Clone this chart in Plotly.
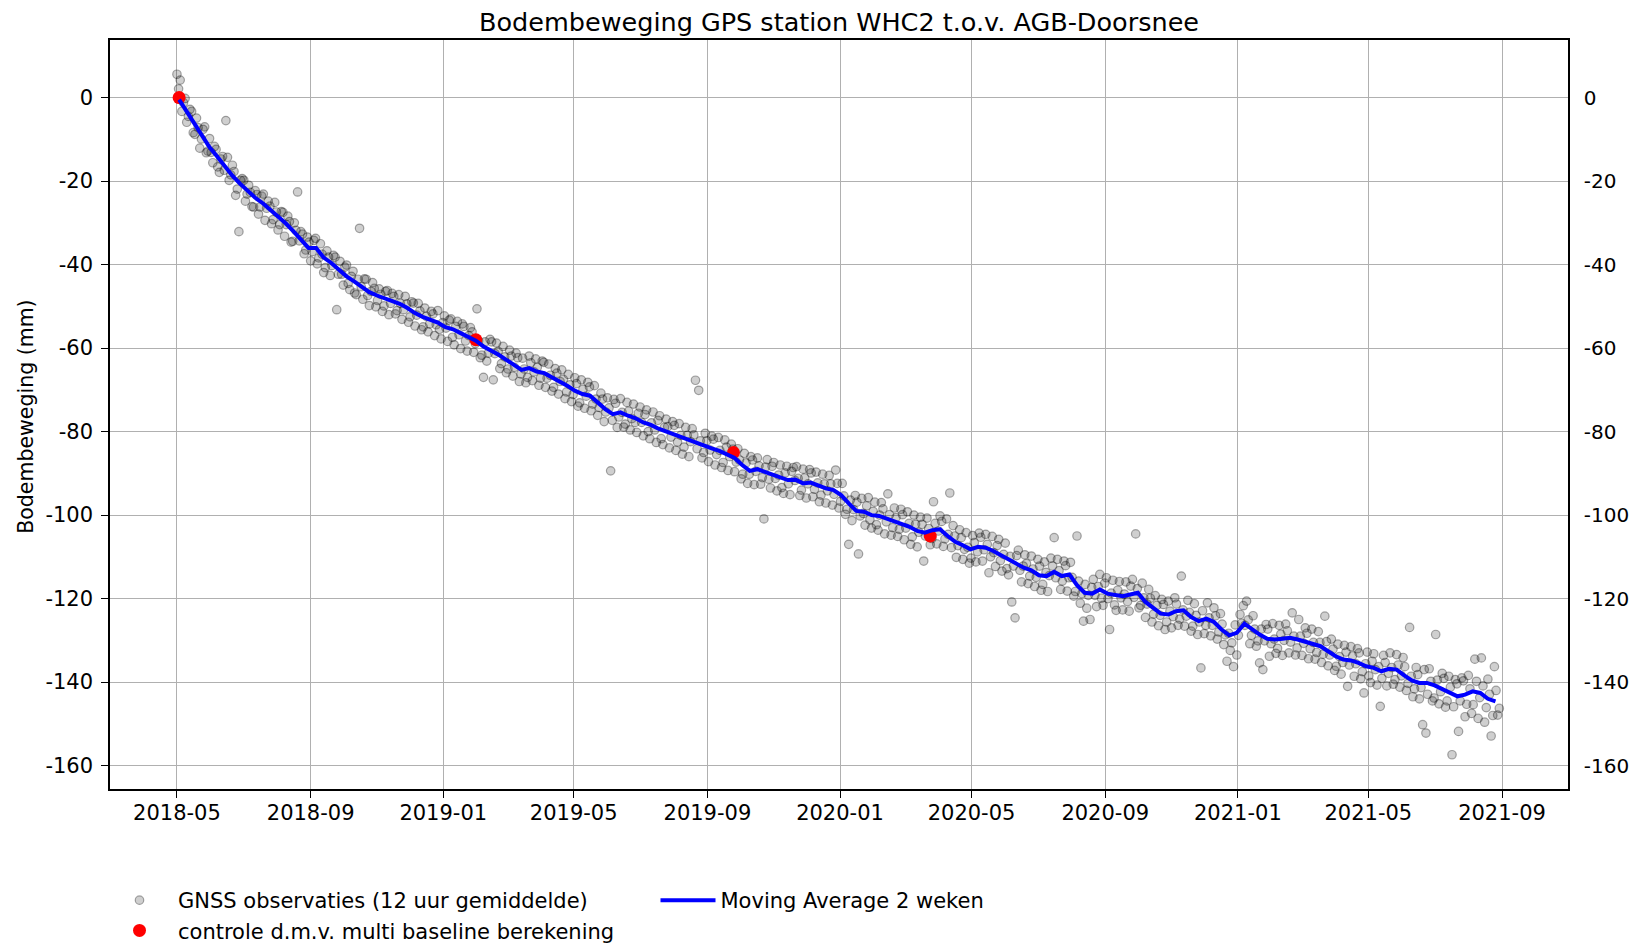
import pandas as pd
import plotly.graph_objects as go

# ---------------- data ----------------
chart_title = "Bodembeweging GPS station WHC2 t.o.v. AGB-Doorsnee"
y_title = "Bodembeweging (mm)"
obs_name = "GNSS observaties (12 uur gemiddelde)"
ctrl_name = "controle d.m.v. multi baseline berekening"
ma_name = "Moving Average 2 weken"

# GNSS 12-hour observations (mm); first set every 3 days from 2018-05-01 00:00
obs_a_start = "2018-05-01 00:00"
obs_b_start = "2018-05-02 12:00"
obs_step = "3D"
obs_a_values = [
    5.6, 4.2, -1.2, -5.9, -2.8, -8.4, -4.9, -12.1, -7.6, -13.2,
    -9.8, -15.6, -12.4, -17.9, -14.1, -5.5, -19.8, -16.2, -23.4, -32.1,
    -19.4, -24.8, -21.0, -26.1, -22.3, -27.9, -23.6, -29.4, -24.8, -30.2,
    -25.1, -31.7, -27.3, -33.2, -28.4, -34.6, -30.0, -22.6, -32.1, -37.4,
    -33.4, -39.1, -34.2, -39.8, -35.0, -41.9, -36.7, -42.6, -37.8, -50.8,
    -39.2, -44.9, -40.1, -46.0, -41.6, -47.2, -31.3, -48.3, -43.5, -49.8,
    -44.3, -50.1, -45.8, -51.2, -46.4, -52.0, -46.9, -51.8, -47.2, -53.1,
    -47.6, -53.8, -48.9, -54.7, -49.3, -55.6, -50.4, -56.1, -51.2, -57.0,
    -51.0, -57.8, -52.3, -58.4, -53.0, -59.2, -53.6, -60.1, -54.8, -60.7,
    -55.1, -61.0, -50.6, -62.3, -67.0, -63.1, -57.9, -67.6, -58.8, -64.9,
    -59.6, -65.9, -60.5, -66.7, -61.2, -68.0, -62.4, -68.3, -61.9, -67.8,
    -62.6, -68.9, -63.1, -69.4, -63.8, -70.3, -64.9, -71.0, -65.2, -72.1,
    -66.3, -72.8, -67.1, -73.9, -67.6, -74.4, -68.2, -75.0, -69.0, -76.1,
    -70.8, -77.6, -71.9, -89.4, -72.3, -79.0, -72.1, -78.9, -73.0, -79.6,
    -73.4, -80.2, -74.1, -81.0, -74.8, -81.7, -75.3, -82.6, -76.2, -83.1,
    -77.0, -83.9, -77.6, -84.5, -78.1, -85.4, -79.0, -86.0, -79.3, -67.7,
    -70.1, -86.3, -80.4, -87.2, -81.1, -88.0, -81.4, -88.6, -82.0, -89.3,
    -83.0, -89.6, -84.1, -91.3, -85.2, -92.4, -86.0, -92.7, -86.3, -92.6,
    -100.9, -86.7, -93.5, -87.4, -94.2, -88.0, -94.8, -88.3, -95.1, -88.6,
    -88.4, -95.3, -89.0, -95.9, -89.1, -95.6, -89.7, -96.8, -90.2, -97.1,
    -90.5, -97.6, -89.2, -98.3, -92.4, -99.8, -107.0, -101.3, -95.3, -109.3,
    -96.0, -102.4, -95.8, -103.1, -96.9, -103.6, -97.0, -104.5, -94.9, -104.8,
    -98.3, -105.1, -98.6, -105.9, -99.2, -107.0, -100.0, -107.6, -100.5, -111.0,
    -100.7, -107.1, -96.8, -106.9, -100.2, -107.5, -100.9, -94.7, -102.5, -110.1,
    -103.5, -110.6, -104.2, -111.5, -104.9, -111.2, -104.3, -111.0, -104.6, -113.8,
    -105.1, -112.3, -105.8, -113.4, -106.7, -114.3, -120.8, -124.6, -108.4, -116.0,
    -109.5, -116.4, -109.8, -117.1, -110.6, -118.0, -111.2, -118.3, -110.3, -105.4,
    -110.6, -117.8, -111.0, -118.2, -111.3, -119.4, -105.0, -121.1, -125.4, -122.3,
    -125.0, -115.4, -121.9, -114.2, -121.6, -115.0, -127.4, -115.6, -122.8, -115.9,
    -122.7, -116.0, -123.0, -115.4, -104.5, -122.2, -116.3, -124.5, -117.8, -125.6,
    -119.3, -126.5, -120.2, -127.4, -120.6, -127.0, -119.8, -126.4, -114.6, -126.6,
    -120.4, -127.8, -121.2, -128.6, -136.6, -128.4, -121.0, -128.9, -122.2, -129.7,
    -123.6, -131.0, -135.0, -132.4, -136.3, -133.5, -123.8, -121.7, -120.6, -130.8,
    -124.1, -131.4, -135.4, -137.0, -126.2, -133.8, -126.0, -133.1, -126.4, -133.6,
    -126.1, -133.0, -123.4, -133.5, -125.0, -133.6, -127.0, -134.4, -127.3, -134.5,
    -127.9, -135.3, -124.2, -136.1, -129.7, -137.2, -130.9, -138.1, -131.2, -141.0,
    -131.5, -138.6, -132.0, -139.2, -142.6, -132.8, -140.1, -133.2, -140.7, -145.8,
    -133.6, -140.9, -133.0, -140.5, -133.4, -141.2, -134.1, -142.0, -126.9, -143.5,
    -136.5, -144.0, -150.2, -152.2, -136.8, -144.5, -128.6, -145.2, -137.9, -146.0,
    -138.6, -157.4, -139.4, -151.8, -139.0, -148.3, -138.4, -147.5, -134.5, -148.7,
    -134.2, -149.6, -139.3, -152.9, -136.3, -147.9,
]
# second set of 12-hour readings, every 3 days from 2018-05-02 12:00
obs_b_values = [
    2.1, -3.3, -0.2, -4.5, -3.3, -8.8, -7.2, -9.9, -7.0, -12.8,
    -13.1, -11.7, -16.6, -14.7, -17.4, -14.3, -18.5, -17.7, -21.9, -19.8,
    -19.8, -23.1, -22.7, -26.2, -23.2, -26.2, -23.1, -26.5, -26.0, -29.2,
    -27.4, -30.4, -27.5, -30.4, -29.7, -34.4, -31.8, -34.3, -32.7, -36.5,
    -34.6, -36.9, -33.7, -38.4, -37.5, -40.7, -38.2, -40.2, -38.2, -42.3,
    -42.3, -40.6, -44.5, -42.8, -46.8, -43.5, -45.3, -43.4, -47.4, -46.4,
    -45.7, -48.6, -47.1, -49.9, -46.2, -49.3, -47.6, -51.0, -49.3, -50.8,
    -49.4, -52.5, -49.2, -52.1, -51.1, -54.9, -52.4, -54.2, -51.8, -54.4,
    -55.5, -53.9, -55.2, -53.3, -57.4, -54.8, -56.8, -54.2, -58.3, -57.0,
    -56.1, -58.9, -58.3, -61.7, -58.5, -61.2, -58.5, -61.3, -60.8, -63.7,
    -62.1, -65.0, -61.9, -64.6, -62.3, -66.2, -65.0, -67.0, -63.5, -65.7,
    -64.6, -67.2, -63.4, -67.2, -66.5, -69.4, -66.0, -68.0, -67.5, -70.5,
    -68.8, -71.1, -68.5, -73.1, -69.9, -71.5, -69.3, -73.4, -72.2, -74.2,
    -72.2, -75.3, -74.3, -77.3, -73.2, -76.5, -75.4, -78.2, -75.1, -76.9,
    -77.8, -75.6, -77.8, -75.9, -80.0, -77.9, -79.6, -77.3, -81.7, -79.0,
    -78.8, -81.3, -78.5, -82.5, -80.9, -83.7, -80.9, -82.4, -80.8, -84.1,
    -82.2, -85.0, -82.2, -84.4, -81.8, -85.5, -84.5, -87.4, -83.7, -86.0,
    -84.2, -87.3, -86.8, -90.2, -87.5, -90.2, -86.8, -89.5, -88.2, -91.0,
    -88.5, -91.4, -88.3, -91.2, -90.4, -93.4, -89.9, -92.5, -89.5, -91.7,
    -91.2, -94.0, -91.1, -92.5, -89.9, -93.8, -92.3, -95.2, -92.5, -94.2,
    -92.5, -95.0, -92.4, -96.7, -95.4, -98.6, -96.4, -98.7, -96.9, -100.2,
    -99.6, -97.8, -101.1, -99.1, -102.3, -100.0, -98.5, -101.6, -99.9, -103.0,
    -100.6, -103.4, -99.9, -103.1, -102.0, -105.2, -102.2, -104.1, -102.2, -105.0,
    -103.2, -105.6, -102.0, -103.8, -101.5, -105.7, -104.6, -107.8, -105.0, -107.3,
    -105.4, -108.2, -107.7, -110.3, -106.6, -108.8, -105.3, -108.3, -107.0, -110.0,
    -109.0, -107.3, -110.9, -109.4, -112.8, -109.9, -112.2, -109.7, -113.2, -112.2,
    -111.6, -114.6, -112.9, -114.9, -112.2, -116.6, -113.7, -114.5, -112.2, -115.0,
    -113.3, -115.8, -112.1, -115.0, -114.9, -118.3, -115.8, -118.8, -116.6, -119.2,
    -117.3, -119.2, -117.1, -119.9, -116.3, -120.0, -118.7, -121.5, -118.0, -119.8,
    -118.9, -120.7, -117.0, -119.7, -117.6, -121.6, -119.8, -121.3, -119.9, -123.7,
    -121.6, -124.0, -121.4, -125.6, -123.0, -124.3, -121.3, -124.9, -122.7, -124.2,
    -123.3, -126.6, -124.0, -125.6, -122.9, -126.4, -124.6, -126.4, -124.1, -128.0,
    -126.1, -128.7, -128.3, -130.6, -126.3, -128.8, -125.9, -126.4, -125.1, -128.8,
    -127.3, -130.1, -127.3, -130.1, -127.3, -130.8, -129.7, -131.9, -128.5, -130.0,
    -127.7, -130.4, -129.0, -131.8, -129.0, -130.7, -128.3, -132.0, -130.5, -132.9,
    -130.5, -133.3, -130.3, -133.5, -132.1, -136.2, -133.9, -135.3, -132.8, -135.9,
    -133.7, -135.6, -133.0, -137.5, -135.6, -138.5, -135.0, -137.0, -136.3, -139.1,
    -135.3, -137.9, -136.5, -139.4, -135.9, -138.5, -136.3, -140.3, -138.6, -141.6,
    -138.2, -141.3, -137.0, -142.9, -139.8, -143.8, -139.5, -142.3, -139.1, -144.5,
    -141.2, -145.9, -140.4, -144.5, -139.7, -145.3, -141.6, -145.4, -139.8, -143.7,
    -140.9, -146.1, -142.9, -148.0, -142.0, -146.3,
]

# 2-week moving average (mm), weekly samples from 2018-05-03
ma_start = "2018-05-03"
ma_step = "7D"
ma_values = [
    -0.5, -3.3, -6.2, -9.0, -11.9, -14.1, -16.4, -18.7, -20.6, -22.4,
    -24.0, -25.3, -26.8, -28.3, -30.1, -32.0, -34.0, -36.0, -36.0, -38.3,
    -39.6, -41.2, -42.8, -44.0, -45.3, -46.6, -47.4, -48.0, -48.7, -49.4,
    -50.4, -51.6, -52.5, -53.2, -53.9, -55.0, -55.5, -56.4, -57.2, -58.2,
    -59.6, -60.5, -61.6, -62.8, -64.0, -65.2, -64.8, -65.6, -66.0, -67.0,
    -67.8, -69.0, -70.2, -71.0, -71.4, -73.0, -74.6, -75.8, -75.4, -76.2,
    -76.8, -77.8, -78.4, -79.3, -80.0, -80.6, -81.4, -82.1, -82.7, -83.4,
    -84.0, -84.6, -85.4, -86.3, -88.0, -89.4, -89.0, -89.6, -90.4, -91.0,
    -91.6, -91.5, -92.4, -92.2, -93.0, -93.6, -94.0, -95.2, -97.2, -99.0,
    -99.2, -100.0, -100.2, -100.8, -101.4, -102.2, -102.8, -103.8, -104.2, -103.6,
    -103.4, -105.0, -106.4, -107.2, -108.2, -107.6, -107.8, -108.6, -109.6, -110.8,
    -111.8, -112.6, -113.2, -114.4, -114.6, -113.6, -114.6, -114.2, -116.8, -118.6,
    -118.8, -117.8, -118.8, -119.2, -119.4, -119.0, -118.6, -120.8, -122.2, -123.6,
    -123.8, -123.0, -122.8, -124.4, -125.4, -124.8, -125.6, -127.4, -128.8, -128.2,
    -126.0, -127.4, -128.6, -129.6, -129.8, -129.6, -129.4, -129.8, -130.4, -130.8,
    -131.4, -132.6, -133.8, -134.6, -134.8, -135.4, -136.2, -136.6, -137.4, -136.8,
    -137.0, -138.4, -139.6, -140.2, -140.2, -140.8, -141.6, -142.6, -143.4, -143.0,
    -142.2, -142.6, -144.0, -144.6,
]

# control measurements (multi baseline)
ctrl_dates = ["2018-05-03", "2019-01-31", "2019-09-25", "2020-03-24"]
ctrl_values = [0.0, -58.0, -85.0, -105.0]

y_tick_values = [0, -20, -40, -60, -80, -100, -120, -140, -160]
y_tick_labels = ["0", "-20", "-40", "-60", "-80", "-100", "-120", "-140", "-160"]

# ---------------- figure ----------------
obs_dates = list(pd.date_range(obs_a_start, periods=len(obs_a_values), freq=obs_step)) + \
    list(pd.date_range(obs_b_start, periods=len(obs_b_values), freq=obs_step))
obs_values = obs_a_values + obs_b_values
ma_dates = pd.date_range(ma_start, periods=len(ma_values), freq=ma_step)

FONT = "DejaVu Sans"
GRID = "#b0b0b0"
# the page body adds an 8 px margin at the top-left of the figure
W, H = 1629, 939

fig = go.Figure()
fig.add_trace(go.Scatter(
    x=obs_dates, y=obs_values, mode="markers", name=obs_name,
    marker=dict(size=8.5, color="rgba(0,0,0,0.19)",
                line=dict(color="rgba(0,0,0,0.33)", width=1.2)),
    legend="legend",
))
fig.add_trace(go.Scatter(
    x=ctrl_dates, y=ctrl_values, mode="markers", name=ctrl_name,
    marker=dict(size=13, color="red", line=dict(width=0)),
    legend="legend",
))
fig.add_trace(go.Scatter(
    x=ma_dates, y=ma_values, mode="lines", name=ma_name,
    line=dict(color="blue", width=4),
    legend="legend2",
))
# empty trace to carry the mirrored right-hand axis
fig.add_trace(go.Scatter(x=[None], y=[None], yaxis="y2", showlegend=False,
                         hoverinfo="skip"))

y_range = [-165.6, 13.8]
x_range = ["2018-02-28 10:00", "2021-10-31 17:00"]

axis_common = dict(
    showline=True, linecolor="black", linewidth=1.5,
    zeroline=False, automargin=False,
)
tick_style = dict(ticks="outside", ticklen=7, tickwidth=1.3, tickcolor="black",
                  tickfont=dict(family=FONT, size=21, color="black"))

fig.update_layout(
    width=W, height=H,
    paper_bgcolor="white", plot_bgcolor="white",
    margin=dict(l=102, r=69, t=32, b=158, autoexpand=False),
    font=dict(family=FONT, size=21, color="black"),
    title=dict(text=chart_title, x=831 / W, xanchor="center",
               y=1 - 14 / H, yanchor="middle", yref="container",
               font=dict(family=FONT, size=25.5, color="black")),
    xaxis=dict(
        range=x_range, type="date", tickformat="%Y-%m",
        tick0="2018-01-01", dtick="M4", tickangle=0,
        showgrid=True, gridcolor=GRID, gridwidth=1.3,
        mirror=True, ticklabelstandoff=-3,
        **tick_style, **axis_common,
    ),
    yaxis=dict(
        range=y_range, tickvals=y_tick_values, ticktext=y_tick_labels,
        showgrid=True, gridcolor=GRID, gridwidth=1.3,
        ticklabelstandoff=4,
        **tick_style, **axis_common,
    ),
    yaxis2=dict(
        range=y_range, tickvals=y_tick_values, ticktext=y_tick_labels,
        overlaying="y", side="right", showgrid=False,
        ticks="", ticklabelstandoff=10,
        tickfont=dict(family=FONT, size=20, color="black"),
        **axis_common,
    ),
    annotations=[dict(
        text=y_title, xref="paper", yref="paper", x=-0.0576, y=0.497,
        xanchor="center", yanchor="middle", textangle=-90, showarrow=False,
        font=dict(family=FONT, size=20.5, color="black"),
    )],
    legend=dict(
        xref="container", yref="container", x=93 / W, y=1 - 872 / H,
        xanchor="left", yanchor="top", orientation="v",
        font=dict(family=FONT, size=21, color="black"),
        bgcolor="rgba(0,0,0,0)", itemwidth=67,
    ),
    legend2=dict(
        xref="container", yref="container", x=647.5 / W, y=1 - 872 / H,
        xanchor="left", yanchor="top", orientation="v",
        font=dict(family=FONT, size=21, color="black"),
        bgcolor="rgba(0,0,0,0)", itemwidth=55,
    ),
    showlegend=True,
)

fig.write_html("out.html")
